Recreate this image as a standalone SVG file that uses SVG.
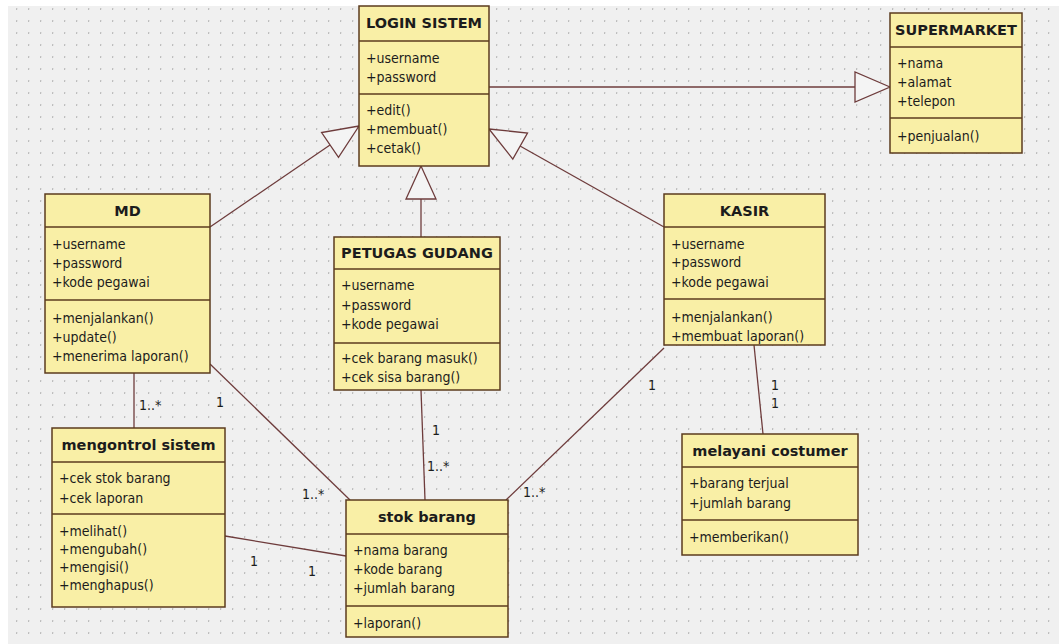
<svg xmlns="http://www.w3.org/2000/svg" width="1059" height="644" viewBox="0 0 1059 644">
  <defs>
    <pattern id="grid" x="4" y="8" width="12" height="12" patternUnits="userSpaceOnUse">
      <rect x="0" y="0" width="1" height="2" fill="#b4b4b4"/>
      <rect x="-1" y="0.5" width="3" height="0.8" fill="#d0d0d0"/>
    </pattern>
    <style>
      .box { fill: #f9efa6; stroke: #5b3b1e; stroke-width: 1.5; }
      .sep { stroke: #5b3b1e; stroke-width: 1.5; }
      .title { font-family: "DejaVu Sans", Verdana, sans-serif; font-weight: bold; font-size: 14.5px; fill: #1c1c1c; text-anchor: middle; }
      .item { font-family: "DejaVu Sans Condensed", "DejaVu Sans", sans-serif; font-stretch: condensed; font-size: 14px; fill: #1c1c1c; }
      .conn { fill: none; stroke: #6e3c3c; stroke-width: 1.3; }
      .head { fill: #f4f4f4; stroke: #6e3c3c; stroke-width: 1.3; }
      .mult { font-family: "DejaVu Sans Condensed", "DejaVu Sans", sans-serif; font-stretch: condensed; font-size: 14px; fill: #1c1c1c; }
    </style>
  </defs>

  <!-- canvas -->
  <rect x="0" y="0" width="1059" height="644" fill="#ffffff"/>
  <rect x="8" y="6" width="1051" height="638" fill="#f0f0f0"/>
  <rect x="8" y="6" width="1051" height="638" fill="url(#grid)"/>

  <!-- connectors -->
  <g id="connectors">
    <!-- generalisations -->
    <line class="conn" x1="489" y1="87" x2="855" y2="87"/>
    <polygon class="head" points="890,87 855,72 855,102"/>

    <line class="conn" x1="210" y1="227" x2="330" y2="145"/>
    <polygon class="head" points="359,126 338.5,157.3 321.6,132.5"/>

    <line class="conn" x1="421" y1="237" x2="421" y2="199"/>
    <polygon class="head" points="421,166 406,199 436,199"/>

    <line class="conn" x1="664" y1="227" x2="520" y2="146"/>
    <polygon class="head" points="489,129 527.5,133 512.8,159.1"/>

    <!-- associations -->
    <line class="conn" x1="134" y1="373" x2="134" y2="428"/>
    <line class="conn" x1="210" y1="364" x2="350" y2="500"/>
    <line class="conn" x1="421" y1="390" x2="425" y2="500"/>
    <line class="conn" x1="664" y1="348" x2="506" y2="500"/>
    <line class="conn" x1="754" y1="345" x2="763" y2="434"/>
    <line class="conn" x1="225" y1="536" x2="346" y2="556"/>

    <!-- multiplicities -->
    <text class="mult" x="139" y="410">1..*</text>
    <text class="mult" x="216" y="407">1</text>
    <text class="mult" x="302" y="499">1..*</text>
    <text class="mult" x="432" y="435">1</text>
    <text class="mult" x="427" y="471">1..*</text>
    <text class="mult" x="523" y="497">1..*</text>
    <text class="mult" x="648" y="390">1</text>
    <text class="mult" x="771" y="390">1</text>
    <text class="mult" x="771" y="408">1</text>
    <text class="mult" x="250" y="566">1</text>
    <text class="mult" x="308" y="576">1</text>
  </g>

  <!-- LOGIN SISTEM -->
  <g id="login-sistem">
    <rect class="box" x="359" y="6" width="130" height="160"/>
    <line class="sep" x1="359" y1="41" x2="489" y2="41"/>
    <line class="sep" x1="359" y1="94" x2="489" y2="94"/>
    <text class="title" x="424" y="28">LOGIN SISTEM</text>
    <text class="item" x="366" y="63">+username</text>
    <text class="item" x="366" y="82">+password</text>
    <text class="item" x="366" y="115">+edit()</text>
    <text class="item" x="366" y="134">+membuat()</text>
    <text class="item" x="366" y="153">+cetak()</text>
  </g>

  <!-- SUPERMARKET -->
  <g id="supermarket">
    <rect class="box" x="890" y="13" width="132" height="140"/>
    <line class="sep" x1="890" y1="47" x2="1022" y2="47"/>
    <line class="sep" x1="890" y1="118" x2="1022" y2="118"/>
    <text class="title" x="956" y="35">SUPERMARKET</text>
    <text class="item" x="897" y="68">+nama</text>
    <text class="item" x="897" y="87">+alamat</text>
    <text class="item" x="897" y="106">+telepon</text>
    <text class="item" x="897" y="141">+penjualan()</text>
  </g>

  <!-- MD -->
  <g id="md">
    <rect class="box" x="45" y="194" width="165" height="179"/>
    <line class="sep" x1="45" y1="227" x2="210" y2="227"/>
    <line class="sep" x1="45" y1="300" x2="210" y2="300"/>
    <text class="title" x="127.5" y="216">MD</text>
    <text class="item" x="52" y="249">+username</text>
    <text class="item" x="52" y="268">+password</text>
    <text class="item" x="52" y="287">+kode pegawai</text>
    <text class="item" x="52" y="323">+menjalankan()</text>
    <text class="item" x="52" y="342">+update()</text>
    <text class="item" x="52" y="361">+menerima laporan()</text>
  </g>

  <!-- PETUGAS GUDANG -->
  <g id="petugas-gudang">
    <rect class="box" x="334" y="237" width="166" height="153"/>
    <line class="sep" x1="334" y1="269" x2="500" y2="269"/>
    <line class="sep" x1="334" y1="343" x2="500" y2="343"/>
    <text class="title" x="417" y="258">PETUGAS GUDANG</text>
    <text class="item" x="341" y="290">+username</text>
    <text class="item" x="341" y="310">+password</text>
    <text class="item" x="341" y="329">+kode pegawai</text>
    <text class="item" x="341" y="363">+cek barang masuk()</text>
    <text class="item" x="341" y="382">+cek sisa barang()</text>
  </g>

  <!-- KASIR -->
  <g id="kasir">
    <rect class="box" x="664" y="194" width="161" height="151"/>
    <line class="sep" x1="664" y1="227" x2="825" y2="227"/>
    <line class="sep" x1="664" y1="299" x2="825" y2="299"/>
    <text class="title" x="744.5" y="216">KASIR</text>
    <text class="item" x="671" y="249">+username</text>
    <text class="item" x="671" y="267">+password</text>
    <text class="item" x="671" y="287">+kode pegawai</text>
    <text class="item" x="671" y="322">+menjalankan()</text>
    <text class="item" x="671" y="341">+membuat laporan()</text>
  </g>

  <!-- mengontrol sistem -->
  <g id="mengontrol-sistem">
    <rect class="box" x="52" y="428" width="173" height="179"/>
    <line class="sep" x1="52" y1="462" x2="225" y2="462"/>
    <line class="sep" x1="52" y1="514" x2="225" y2="514"/>
    <text class="title" x="138.5" y="450">mengontrol sistem</text>
    <text class="item" x="59" y="483">+cek stok barang</text>
    <text class="item" x="59" y="503">+cek laporan</text>
    <text class="item" x="59" y="536">+melihat()</text>
    <text class="item" x="59" y="554">+mengubah()</text>
    <text class="item" x="59" y="572">+mengisi()</text>
    <text class="item" x="59" y="590">+menghapus()</text>
  </g>

  <!-- stok barang -->
  <g id="stok-barang">
    <rect class="box" x="346" y="500" width="162" height="137"/>
    <line class="sep" x1="346" y1="534" x2="508" y2="534"/>
    <line class="sep" x1="346" y1="606" x2="508" y2="606"/>
    <text class="title" x="427" y="522">stok barang</text>
    <text class="item" x="353" y="555">+nama barang</text>
    <text class="item" x="353" y="574">+kode barang</text>
    <text class="item" x="353" y="593">+jumlah barang</text>
    <text class="item" x="353" y="628">+laporan()</text>
  </g>

  <!-- melayani costumer -->
  <g id="melayani-costumer">
    <rect class="box" x="682" y="434" width="176" height="121"/>
    <line class="sep" x1="682" y1="467" x2="858" y2="467"/>
    <line class="sep" x1="682" y1="520" x2="858" y2="520"/>
    <text class="title" x="770" y="456">melayani costumer</text>
    <text class="item" x="689" y="488">+barang terjual</text>
    <text class="item" x="689" y="508">+jumlah barang</text>
    <text class="item" x="689" y="542">+memberikan()</text>
  </g>
</svg>
